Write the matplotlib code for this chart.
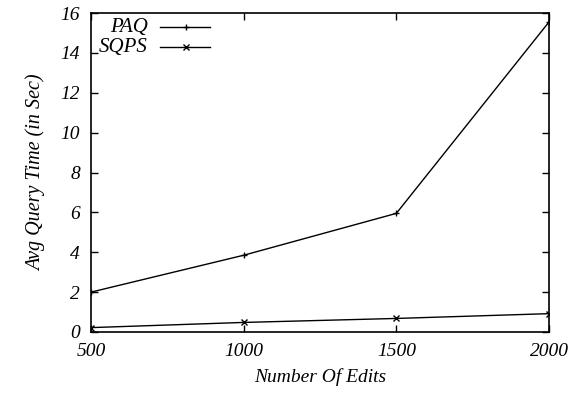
import matplotlib
matplotlib.use("Agg")
import matplotlib.pyplot as plt
from matplotlib.lines import Line2D

edits = [500, 1000, 1500, 2000]
paq = [2.0, 3.85, 5.95, 15.55]
sqps = [0.22, 0.48, 0.68, 0.92]
yticks = [0, 2, 4, 6, 8, 10, 12, 14, 16]
xticks = [500, 1000, 1500, 2000]
series_labels = ['PAQ', 'SQPS']
markers = ['+', 'x']

plt.rcParams['font.family'] = ['Liberation Serif']
plt.rcParams['font.style'] = 'italic'

W, H = 577, 394
fig = plt.figure(figsize=(W/100, H/100), dpi=100)
ax = fig.add_axes([91/W, 1-332/H, (549-91)/W, (332-13)/H])

ax.plot(edits, paq, color='black', lw=1, marker='+', ms=5, mew=1)
ax.plot(edits, sqps, color='black', lw=1, marker='x', ms=4, mew=1)

ax.set_xlim(500, 2000)
ax.set_ylim(0, 16)
ax.set_xticks(xticks)
ax.set_yticks(yticks)
ax.tick_params(direction='in', top=True, right=True, length=5, width=1, labelsize=14, pad=8)
for lab in ax.get_xticklabels() + ax.get_yticklabels():
    lab.set_fontstyle('italic')
for s in ax.spines.values():
    s.set_linewidth(1.2)

ax.set_xlabel('Number Of Edits', fontsize=14, style='italic', labelpad=6)
ax.set_ylabel('Avg Query Time (in Sec)', fontsize=14.5, style='italic', labelpad=10)

# manual gnuplot-style legend (text right-aligned, sample to the right)
for i, (lab, mk) in enumerate(zip(series_labels, markers)):
    yc = 1 - (27 + 20*i)/H
    yb = 1 - (32 + 20*i)/H
    fig.text(148/W, yb, lab, ha='right', va='baseline', fontsize=15, style='italic')
    fig.add_artist(Line2D([160/W, 210/W], [yc, yc], color='black', lw=1,
                          transform=fig.transFigure))
    fig.add_artist(Line2D([186/W], [yc], color='black', lw=0, marker=mk,
                          ms=5 if mk == '+' else 4, mew=1, transform=fig.transFigure))

fig.savefig('out.png', dpi=100)
